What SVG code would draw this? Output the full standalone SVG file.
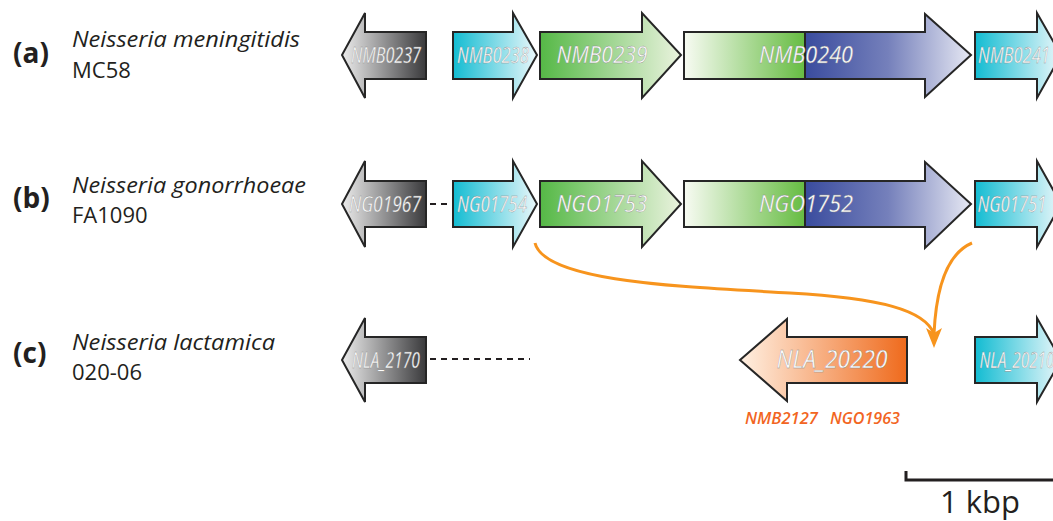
<svg xmlns="http://www.w3.org/2000/svg" width="1053" height="521" viewBox="0 0 1053 521">
<defs>
<linearGradient id="gGray" x1="0" y1="0" x2="1" y2="0"><stop offset="0" stop-color="#ececec"/><stop offset="1" stop-color="#3a3a3c"/></linearGradient>
<linearGradient id="gCyan" x1="0" y1="0" x2="1" y2="0"><stop offset="0" stop-color="#12bcd2"/><stop offset="1" stop-color="#eaf7fa"/></linearGradient>
<linearGradient id="gGreen" x1="0" y1="0" x2="1" y2="0"><stop offset="0" stop-color="#55b846"/><stop offset="1" stop-color="#eaf3de"/></linearGradient>
<linearGradient id="gGreen2" x1="0" y1="0" x2="1" y2="0"><stop offset="0" stop-color="#f8fbf3"/><stop offset="1" stop-color="#66bc42"/></linearGradient>
<linearGradient id="gBlue" x1="0" y1="0" x2="1" y2="0"><stop offset="0" stop-color="#3a4c9e"/><stop offset="0.5" stop-color="#7580bb"/><stop offset="1" stop-color="#e6e8f3"/></linearGradient>
<linearGradient id="gOrange" x1="0" y1="0" x2="1" y2="0"><stop offset="0" stop-color="#fff0e2"/><stop offset="1" stop-color="#ef6a1c"/></linearGradient>
</defs>
<style>
.ol{stroke:#262626;stroke-width:2;stroke-linejoin:miter}
.gl{font-family:"Open Sans","Noto Sans",sans-serif;font-style:italic;fill:#ffffff;stroke:#8a8a8a;stroke-width:0.35;text-anchor:middle}
.sp{font-family:"Open Sans","Noto Sans",sans-serif;font-style:italic;font-size:22px;fill:#231f20}
.st{font-family:"Open Sans","Noto Sans",sans-serif;font-size:22px;fill:#231f20}
.lb{font-family:"Open Sans","Noto Sans",sans-serif;font-weight:bold;font-size:28px;fill:#231f20}
.ot{font-family:"Open Sans","Noto Sans",sans-serif;font-style:italic;font-weight:600;font-size:17px;fill:#f26522}
.cn{fill:none;stroke:#f7941d;stroke-width:3}
.dash{stroke:#231f20;stroke-width:2;stroke-dasharray:6,5}
</style>
<rect x="0" y="0" width="1053" height="521" fill="#ffffff"/>

<g id="label-a">
<text class="lb" x="13" y="63">(a)</text>
<text class="sp" x="72" y="47" textLength="228" lengthAdjust="spacingAndGlyphs">Neisseria meningitidis</text>
<text class="st" x="72" y="78">MC58</text>
</g>
<g id="label-b">
<text class="lb" x="13" y="208">(b)</text>
<text class="sp" x="72" y="193" textLength="234" lengthAdjust="spacingAndGlyphs">Neisseria gonorrhoeae</text>
<text class="st" x="72" y="223">FA1090</text>
</g>
<g id="label-c">
<text class="lb" x="13" y="363">(c)</text>
<text class="sp" x="72" y="350" textLength="203" lengthAdjust="spacingAndGlyphs">Neisseria lactamica</text>
<text class="st" x="72" y="380">020-06</text>
</g>

<g id="connectors">
<line class="dash" x1="430" y1="204" x2="450" y2="204" stroke-dasharray="5,3"/>
<line class="dash" x1="430" y1="359" x2="530" y2="359"/>
<path class="cn" d="M535,243 C545,283 690,287 790,293 C880,298 925,310 934,334"/>
<path class="cn" d="M972,243 C946,254 936,290 934,334"/>
<polygon points="926,328 934,348 942,328 934,333" fill="#f7941d"/>
</g>

<!-- Row a -->
<g id="NMB0237">
<polygon class="ol" fill="url(#gGray)" points="426,32 365,32 365,13 342,55 365,98 365,79 426,79"/>
<text class="gl" x="386" y="63" font-size="21" textLength="70" lengthAdjust="spacingAndGlyphs">NMB0237</text>
</g>
<g id="NMB0238">
<polygon class="ol" fill="url(#gCyan)" points="453,32 513,32 513,13 537,55 513,98 513,79 453,79"/>
<text class="gl" x="493" y="63" font-size="21" textLength="72" lengthAdjust="spacingAndGlyphs">NMB0238</text>
</g>
<g id="NMB0239">
<polygon class="ol" fill="url(#gGreen)" points="540,32 642,32 642,13 681,55 642,98 642,79 540,79"/>
<text class="gl" x="602" y="63" font-size="23" textLength="91" lengthAdjust="spacingAndGlyphs">NMB0239</text>
</g>
<g id="NMB0240">
<rect x="684" y="32" width="121" height="47" fill="url(#gGreen2)"/>
<polygon fill="url(#gBlue)" points="805,32 925,32 925,14 971,55 925,97 925,79 805,79"/>
<polygon class="ol" fill="none" points="684,32 925,32 925,14 971,55 925,97 925,79 684,79"/>
<line x1="805" y1="32" x2="805" y2="79" stroke="#262626" stroke-width="2"/>
<text class="gl" x="806" y="63" font-size="23" textLength="94" lengthAdjust="spacingAndGlyphs">NMB0240</text>
</g>
<g id="NMB0241">
<polygon class="ol" fill="url(#gCyan)" points="975,32 1037,32 1037,13 1061,55 1037,98 1037,79 975,79"/>
<text class="gl" x="1014" y="63" font-size="21" textLength="72" lengthAdjust="spacingAndGlyphs">NMB0241</text>
</g>

<!-- Row b -->
<g id="NGO1967">
<polygon class="ol" fill="url(#gGray)" points="426,181 365,181 365,161 342,204 365,247 365,227 426,227"/>
<text class="gl" x="385" y="212" font-size="21" textLength="72" lengthAdjust="spacingAndGlyphs">NG01967</text>
</g>
<g id="NGO1754">
<polygon class="ol" fill="url(#gCyan)" points="453,181 513,181 513,161 537,204 513,247 513,227 453,227"/>
<text class="gl" x="492" y="212" font-size="21" textLength="70" lengthAdjust="spacingAndGlyphs">NG01754</text>
</g>
<g id="NGO1753">
<polygon class="ol" fill="url(#gGreen)" points="540,181 642,181 642,161 681,204 642,247 642,227 540,227"/>
<text class="gl" x="602" y="212" font-size="23" textLength="91" lengthAdjust="spacingAndGlyphs">NGO1753</text>
</g>
<g id="NGO1752">
<rect x="684" y="181" width="121" height="46" fill="url(#gGreen2)"/>
<polygon fill="url(#gBlue)" points="805,181 925,181 925,162 971,204 925,248 925,227 805,227"/>
<polygon class="ol" fill="none" points="684,181 925,181 925,162 971,204 925,248 925,227 684,227"/>
<line x1="805" y1="181" x2="805" y2="227" stroke="#262626" stroke-width="2"/>
<text class="gl" x="806" y="212" font-size="23" textLength="94" lengthAdjust="spacingAndGlyphs">NGO1752</text>
</g>
<g id="NGO1751">
<polygon class="ol" fill="url(#gCyan)" points="975,181 1037,181 1037,161 1061,204 1037,247 1037,227 975,227"/>
<text class="gl" x="1012" y="212" font-size="21" textLength="69" lengthAdjust="spacingAndGlyphs">NG01751</text>
</g>

<!-- Row c -->
<g id="NLA_2170">
<polygon class="ol" fill="url(#gGray)" points="426,337 365,337 365,318 342,360 365,402 365,383 426,383"/>
<text class="gl" x="386" y="368" font-size="21" textLength="68" lengthAdjust="spacingAndGlyphs">NLA_2170</text>
</g>
<g id="NLA_20220">
<polygon class="ol" fill="url(#gOrange)" points="907,337 787,337 787,319 740,360 787,401 787,383 907,383"/>
<text class="gl" x="832" y="368" font-size="25" textLength="111" lengthAdjust="spacingAndGlyphs">NLA_20220</text>
<text class="ot" x="745" y="424" textLength="73" lengthAdjust="spacingAndGlyphs">NMB2127</text>
<text class="ot" x="830" y="424" textLength="70" lengthAdjust="spacingAndGlyphs">NGO1963</text>
</g>
<g id="NLA_20210">
<polygon class="ol" fill="url(#gCyan)" points="975,337 1037,337 1037,318 1061,360 1037,402 1037,383 975,383"/>
<text class="gl" x="1017" y="368" font-size="21" textLength="75" lengthAdjust="spacingAndGlyphs">NLA_20210</text>
</g>

<g id="scale-bar">
<polyline points="906,471 906,480 1053,480" fill="none" stroke="#231f20" stroke-width="3"/>
<text x="980" y="513" font-family="Open Sans, Noto Sans, sans-serif" font-size="31" fill="#231f20" text-anchor="middle">1 kbp</text>
</g>
</svg>
